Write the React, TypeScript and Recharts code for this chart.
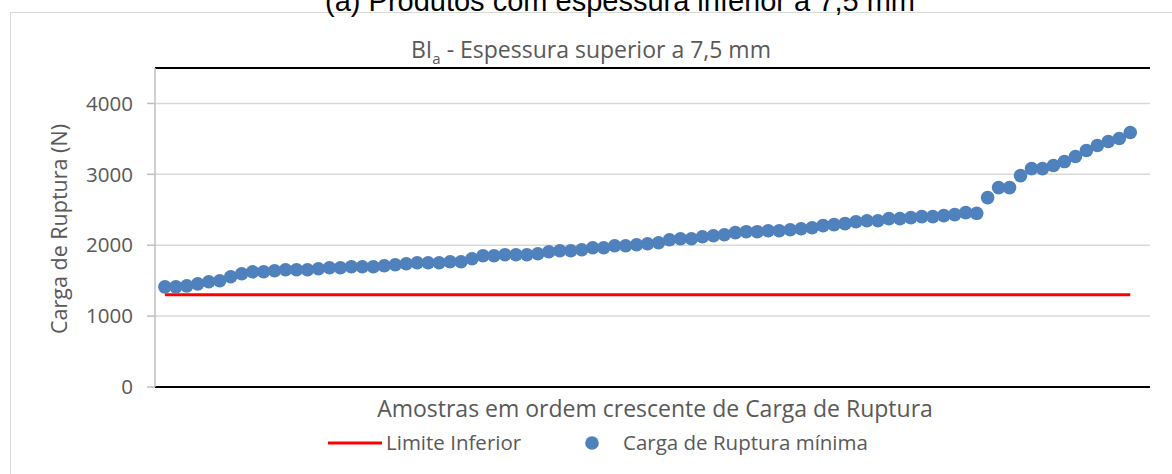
import React from 'react';
import { ComposedChart, Line, XAxis, YAxis, CartesianGrid, ReferenceLine } from 'recharts';

// Carga de Ruptura, amostras em ordem crescente (N)
const cargaRuptura = [
  1413, 1413, 1427, 1455, 1484, 1498, 1555, 1597, 1625, 1625,
  1640, 1654, 1654, 1654, 1668, 1682, 1682, 1696, 1696, 1696,
  1710, 1724, 1738, 1752, 1752, 1752, 1767, 1767, 1810, 1852,
  1852, 1866, 1866, 1866, 1880, 1908, 1922, 1922, 1937, 1965,
  1965, 1993, 1993, 2007, 2021, 2035, 2078, 2092, 2092, 2120,
  2134, 2148, 2177, 2191, 2191, 2205, 2205, 2219, 2233, 2247,
  2276, 2290, 2304, 2332, 2346, 2346, 2375, 2375, 2389, 2403,
  2403, 2417, 2431, 2460, 2450, 2671, 2813, 2813, 2982, 3081,
  3081, 3124, 3180, 3251, 3336, 3406, 3463, 3505, 3590,
];
const limiteInferior = 1300;
const yTicks = [0, 1000, 2000, 3000, 4000];
const yMax = 4500;

const data = cargaRuptura.map((v, i) => ({ idx: i, carga: v, limite: limiteInferior }));

const font = '"Open Sans", sans-serif';
const gray = '#595959';

const App: React.FC = () => {
  return (
    <div style={{ position: 'fixed', left: 0, top: 0, width: 1172, height: 474, overflow: 'hidden', background: '#fff' }}>
      {/* outer chart frame */}
      <div style={{ position: 'absolute', left: 10, top: 12, width: 1200, height: 500, border: '1px solid #d9d9d9' }} />

      <div style={{ position: 'absolute', left: 0, top: 0 }}>
        <ComposedChart width={1172} height={474} data={data} margin={{ top: 68, right: 22, bottom: 87, left: 95 }}>
          <CartesianGrid vertical={false} stroke="#d9d9d9" strokeWidth={1.5} />
          <XAxis type="number" dataKey="idx" domain={[-0.9, 89.8]} hide />
          <YAxis
            width={60}
            domain={[0, yMax]}
            ticks={yTicks}
            interval={0}
            axisLine={{ stroke: '#bfbfbf', strokeWidth: 1.5 }}
            tickLine={{ stroke: '#bfbfbf', strokeWidth: 1.5 }}
            tickSize={8}
            tickMargin={14}
            tick={{ fill: gray, fontSize: 20.5, fontFamily: font }}
          />
          <ReferenceLine y={yMax} stroke="#000" strokeWidth={2} />
          <ReferenceLine y={0} stroke="#000" strokeWidth={2} />
          <Line
            dataKey="limite"
            stroke="#FF0000"
            strokeWidth={3}
            dot={false}
            activeDot={false}
            isAnimationActive={false}
          />
          <Line
            dataKey="carga"
            stroke="none"
            dot={{ r: 6.8, fill: '#4F81BD', stroke: 'none' }}
            activeDot={false}
            isAnimationActive={false}
          />
        </ComposedChart>
      </div>

      <svg width={1172} height={474} style={{ position: 'absolute', left: 0, top: 0, pointerEvents: 'none' }}>
        <text x={620} y={11} textAnchor="middle" fontFamily='"Liberation Sans", Arial, sans-serif' fontSize={29} fill="#000">
          (a) Produtos com espessura inferior a 7,5 mm
        </text>
        <text x={591} y={58} textAnchor="middle" fontFamily={font} fontSize={23} fill={gray}>
          BI<tspan fontSize={15} dy={6}>a</tspan><tspan dy={-6}> - Espessura superior a 7,5 mm</tspan>
        </text>
        <text
          x={67}
          y={229}
          transform="rotate(-90 67 229)"
          textAnchor="middle"
          fontFamily={font}
          fontSize={21.5}
          fill={gray}
        >
          Carga de Ruptura (N)
        </text>
        <text x={655} y={417} textAnchor="middle" fontFamily={font} fontSize={23} fill={gray}>
          Amostras em ordem crescente de Carga de Ruptura
        </text>
        {/* legenda */}
        <line x1={328} y1={443} x2={382} y2={443} stroke="#FF0000" strokeWidth={3} />
        <text x={386} y={450} fontFamily={font} fontSize={20.5} fill={gray}>Limite Inferior</text>
        <circle cx={592} cy={443} r={6.8} fill="#4F81BD" />
        <text x={623} y={450} fontFamily={font} fontSize={20.5} fill={gray}>Carga de Ruptura mínima</text>
      </svg>
    </div>
  );
};

export default App;
